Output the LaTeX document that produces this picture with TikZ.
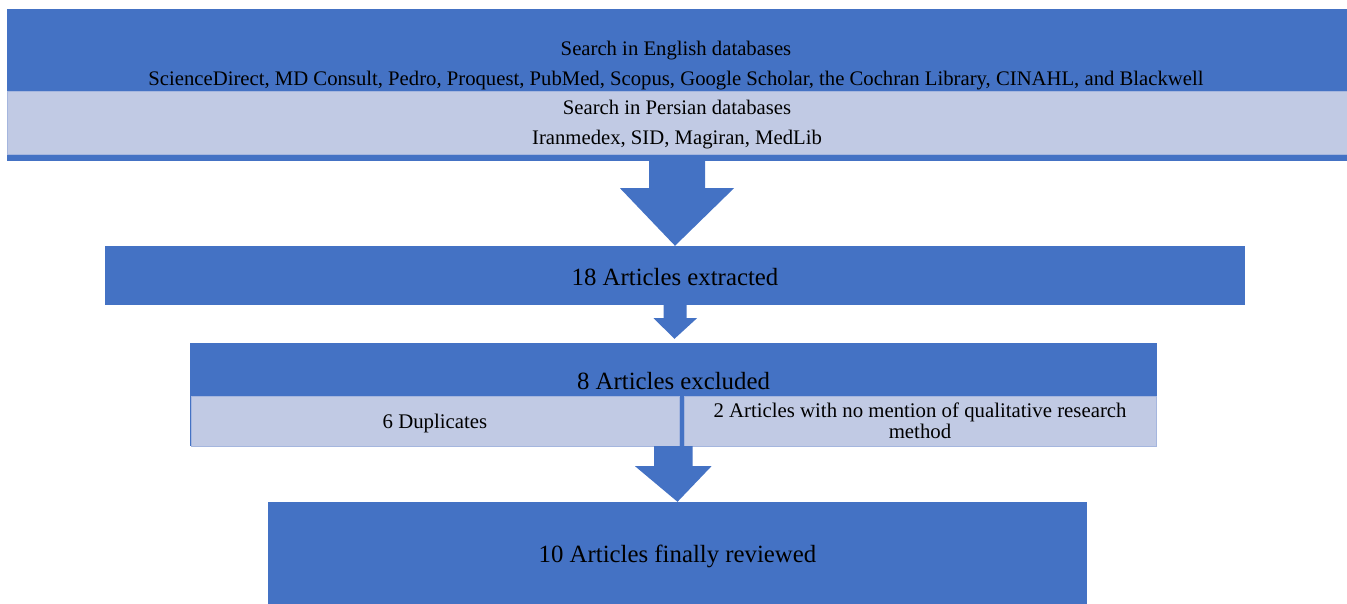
\documentclass[tikz,border=0pt]{standalone}
\usepackage{fontspec}
\setmainfont{Liberation Serif}
\usepackage{xcolor}
\usetikzlibrary{positioning, calc}

\definecolor{stepblue}{RGB}{68,114,196}
\definecolor{steplight}{RGB}{193,202,228}
\definecolor{stepedge}{RGB}{165,182,222}

\newcommand{\lowered}[2]{\raisebox{-#1}[\height][\depth]{#2}}

\begin{document}
\begin{tikzpicture}[
    x=1pt, y=-1pt,
    stage/.style={rectangle, fill=stepblue, inner sep=0pt, font=\fontsize{24.8}{28}\selectfont},
    sub/.style={rectangle, fill=steplight, draw=stepedge, line width=0.8pt, inner sep=0pt, align=center, font=\fontsize{20.8}{21.5}\selectfont},
    flow/.style={fill=stepblue}
]
    \useasboundingbox (0,0) rectangle (1347,604);

    % Search stage
    \node[stage, minimum width=1340pt, minimum height=152pt] (search) at (677,85) {};
    \node[sub, minimum width=1340pt, minimum height=63pt, font=\fontsize{20.7}{30}\selectfont] (persian) at (677,122.5)
        {\lowered{2pt}{\parbox{600pt}{\centering Search in Persian databases\\Iranmedex, SID, Magiran, MedLib}}};
    \node[align=center, font=\fontsize{20.7}{30}\selectfont] (english) at (676,65.5)
        {Search in English databases\\ScienceDirect, MD Consult, Pedro, Proquest, PubMed, Scopus, Google Scholar, the Cochran Library, CINAHL, and Blackwell};

    % Selection stages
    \node[stage, minimum width=1140pt, minimum height=59pt] (extracted) at (675,275.5) {\lowered{2pt}{18 Articles extracted}};
    \node[stage, minimum width=967pt, minimum height=103pt] (excluded) at (673.5,394.5) {};
    \node[font=\fontsize{24.8}{28}\selectfont] (exclabel) at (673.5,381) {8 Articles excluded};
    \node[sub, minimum width=488pt, minimum height=50pt] (dup) at (435,421) {\lowered{2.5pt}{6 Duplicates}};
    \node[sub, minimum width=472pt, minimum height=50pt] (qual) at (920,421)
        {2 Articles with no mention of qualitative research\\method};
    \node[stage, minimum width=819pt, minimum height=102pt] (reviewed) at (677.5,553) {\lowered{3pt}{10 Articles finally reviewed}};

    % Block arrows
    \fill[flow] ($(search.south)+(-28,0)$) -- ++(0,27) -- ++(-29,0) -- (extracted.north)
        -- ($(search.south)+(57,27)$) -- ++(-29,0) -- ($(search.south)+(28,0)$) -- cycle;
    \fill[flow] ($(extracted.south)+(-11.5,0)$) -- ++(0,13) -- ++(-10,0) -- ($(excluded.north)+(1,-4)$)
        -- ($(extracted.south)+(22,13)$) -- ++(-10.5,0) -- ($(extracted.south)+(11.5,0)$) -- cycle;
    \fill[flow] ($(excluded.south)+(-19.5,0)$) -- ++(0,20) -- ++(-19,0) -- (reviewed.north)
        -- ($(excluded.south)+(38,20)$) -- ++(-19,0) -- ($(excluded.south)+(19,0)$) -- cycle;
\end{tikzpicture}
\end{document}
